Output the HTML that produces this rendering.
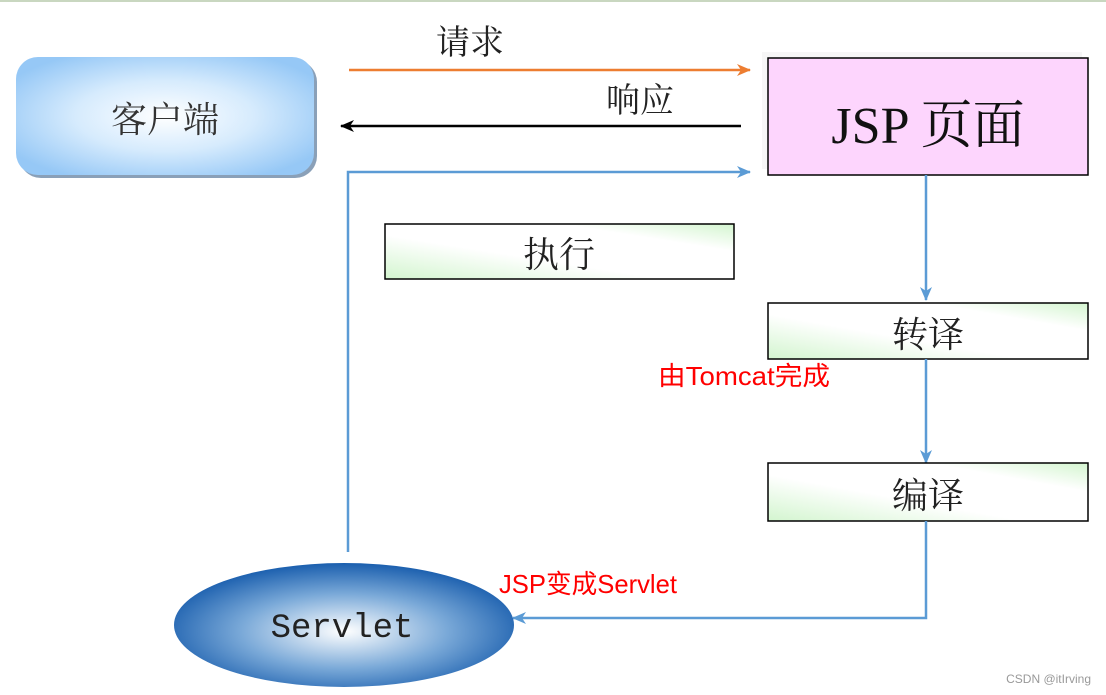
<!DOCTYPE html>
<html><head><meta charset="utf-8"><style>
body{margin:0;background:#fff;}
svg{display:block;}
.cj{font-family:"Liberation Serif","Noto Serif CJK SC",serif;}
.rd{font-family:"Liberation Sans","Noto Sans CJK SC",sans-serif;fill:#f00;}
</style></head><body>
<svg width="1106" height="695" viewBox="0 0 1106 695">
<defs>
<radialGradient id="cg" cx="50%" cy="50%" r="60%"><stop offset="0" stop-color="#fff"/><stop offset="0.5" stop-color="#d6ebfd"/><stop offset="1" stop-color="#96c8f6"/></radialGradient>
<radialGradient id="eg" cx="50%" cy="55%" r="55%"><stop offset="0" stop-color="#fff"/><stop offset="0.55" stop-color="#7aa9d8"/><stop offset="1" stop-color="#1b5fae"/></radialGradient>
<linearGradient id="gg" x1="0" y1="1" x2="1" y2="0"><stop offset="0" stop-color="#d3f5cf"/><stop offset="0.4" stop-color="#fff"/><stop offset="0.75" stop-color="#fff"/><stop offset="1" stop-color="#d3f5cf"/></linearGradient>
<marker id="ab" markerWidth="14" markerHeight="12" refX="13" refY="6" orient="auto" markerUnits="userSpaceOnUse"><path d="M0,0 L14,6 L0,12 L4,6z" fill="#5b9bd5"/></marker>
<marker id="ao" markerWidth="14" markerHeight="12" refX="13" refY="6" orient="auto" markerUnits="userSpaceOnUse"><path d="M0,0 L14,6 L0,12 L4,6z" fill="#ed7d31"/></marker>
<marker id="ak" markerWidth="14" markerHeight="12" refX="13" refY="6" orient="auto" markerUnits="userSpaceOnUse"><path d="M0,0 L14,6 L0,12 L4,6z" fill="#000"/></marker>
</defs>
<rect x="0" y="0" width="1106" height="2" fill="#c9d7c0"/>
<rect x="19" y="60" width="298" height="118" rx="22" fill="#8aa0b8"/>
<rect x="16" y="57" width="298" height="118" rx="22" fill="url(#cg)"/>
<text x="165" y="132" class="cj" font-size="36" text-anchor="middle" fill="#333">客户端</text>
<line x1="349" y1="70" x2="750" y2="70" stroke="#ed7d31" stroke-width="2.5" marker-end="url(#ao)"/>
<text x="470" y="54" class="cj" font-size="34" text-anchor="middle" fill="#222">请求</text>
<line x1="741" y1="126" x2="341" y2="126" stroke="#000" stroke-width="2.5" marker-end="url(#ak)"/>
<text x="640" y="112" class="cj" font-size="34" text-anchor="middle" fill="#222">响应</text>
<polyline points="348,552 348,172 750,172" fill="none" stroke="#5b9bd5" stroke-width="2.5" marker-end="url(#ab)"/>
<rect x="762" y="52" width="320" height="117" fill="#f6f6f6"/>
<rect x="768" y="58" width="320" height="117" fill="#fdd5fd" stroke="#000" stroke-width="1.5"/>
<text x="928" y="143" class="cj" font-size="52" text-anchor="middle" fill="#111">JSP 页面</text>
<rect x="385" y="224" width="349" height="55" fill="url(#gg)" stroke="#000" stroke-width="1.5"/>
<text x="559" y="267" class="cj" font-size="36" text-anchor="middle" fill="#222">执行</text>
<line x1="926" y1="175" x2="926" y2="300" stroke="#5b9bd5" stroke-width="2.5" marker-end="url(#ab)"/>
<rect x="768" y="303" width="320" height="56" fill="url(#gg)" stroke="#000" stroke-width="1.5"/>
<text x="928" y="347" class="cj" font-size="36" text-anchor="middle" fill="#222">转译</text>
<line x1="926" y1="359" x2="926" y2="463" stroke="#5b9bd5" stroke-width="2.5" marker-end="url(#ab)"/>
<rect x="768" y="463" width="320" height="58" fill="url(#gg)" stroke="#000" stroke-width="1.5"/>
<text x="928" y="508" class="cj" font-size="36" text-anchor="middle" fill="#222">编译</text>
<polyline points="926,521 926,618 513,618" fill="none" stroke="#5b9bd5" stroke-width="2.5" marker-end="url(#ab)"/>
<text x="658" y="385" class="rd" font-size="26" textLength="172" lengthAdjust="spacingAndGlyphs">由Tomcat完成</text>
<text x="499" y="593" class="rd" font-size="26" textLength="178" lengthAdjust="spacingAndGlyphs">JSP变成Servlet</text>
<ellipse cx="344" cy="625" rx="170" ry="62" fill="url(#eg)"/>
<text x="342" y="637" font-family="Liberation Mono, monospace" font-size="34" text-anchor="middle" fill="#222">Servlet</text>
<text x="1091" y="683" font-family="Liberation Sans, sans-serif" font-size="12" text-anchor="end" fill="#999">CSDN @itIrving</text>
</svg>
</body></html>
